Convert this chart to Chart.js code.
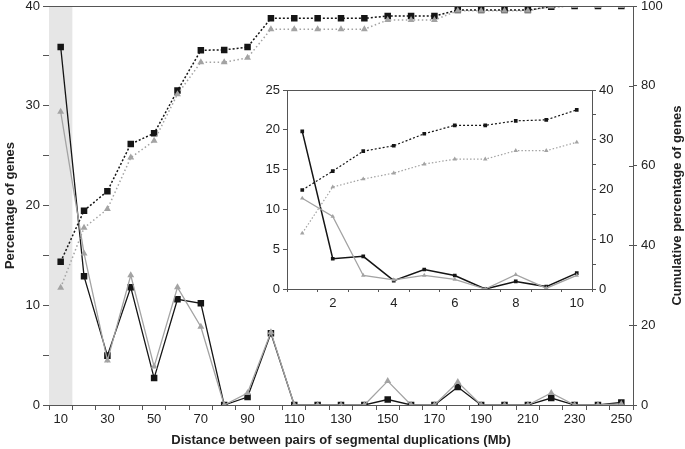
<!DOCTYPE html>
<html>
<head>
<meta charset="utf-8">
<script src="https://cdn.jsdelivr.net/npm/chart.js@4/dist/chart.umd.min.js"></script>
<style>
  body { margin: 0; background: #fff; }
  #wrap { position: relative; width: 685px; height: 449px; }
  #main { position: absolute; left: 0; top: 0; }
  #inset { position: absolute; left: 250px; top: 78px; }
</style>
</head>
<body>
<div id="wrap">
  <canvas id="main" width="685" height="449"></canvas>
  <canvas id="inset" width="370" height="236"></canvas>
</div>
<script>
// main chart: 10 Mb bins
const distances = [10, 20, 30, 40, 50, 60, 70, 80, 90, 100, 110, 120, 130, 140, 150, 160, 170, 180, 190, 200, 210, 220, 230, 240, 250];
const pctBlack = [35.9, 12.9, 4.95, 11.8, 2.7, 10.6, 10.2, 0, 0.8, 7.2, 0, 0, 0, 0, 0.55, 0, 0, 1.8, 0, 0, 0, 0.7, 0, 0, 0.25];
const pctGray = [29.4, 15.2, 4.45, 13.0, 3.85, 11.8, 7.85, 0, 1.2, 7.3, 0, 0, 0, 0, 2.4, 0, 0, 2.3, 0, 0, 0, 1.2, 0, 0, 0.1];
const cumBlack = [35.9, 48.7, 53.6, 65.4, 68.1, 78.8, 88.9, 89.0, 89.7, 96.9, 96.9, 96.9, 96.9, 96.9, 97.5, 97.5, 97.5, 99.0, 99.0, 99.0, 99.0, 99.8, 100, 100, 100];
const cumGray = [29.4, 44.4, 49.1, 62.0, 66.2, 77.9, 85.9, 85.9, 87.0, 94.2, 94.2, 94.2, 94.2, 94.2, 96.5, 96.5, 96.5, 98.8, 98.8, 98.8, 98.8, 99.9, 100, 100, 100];

// inset: first 10 Mb in 1 Mb bins
const insetDistances = [1, 2, 3, 4, 5, 6, 7, 8, 9, 10];
const insetPctBlack = [19.8, 3.8, 4.1, 1.05, 2.45, 1.7, 0, 0.95, 0.3, 2.0];
const insetPctGray = [11.4, 9.1, 1.7, 1.15, 1.7, 1.2, 0, 1.8, 0.1, 1.7];
const insetCumBlack = [19.9, 23.7, 27.7, 28.8, 31.2, 32.9, 32.9, 33.8, 34.0, 36.0];
const insetCumGray = [11.2, 20.5, 22.1, 23.3, 25.1, 26.1, 26.1, 27.8, 27.8, 29.5];

const FONT = '"Liberation Sans", Arial, Helvetica, sans-serif';
const AXIS = '#555';
const BLACK = '#151515';
const GRAY = '#a3a3a3';

Chart.defaults.font.family = FONT;
Chart.defaults.font.size = 13;
Chart.defaults.color = '#222';

function fix(w, h) {
  return function (s) {
    if (w !== null) s.width = w;
    if (h !== null) s.height = h;
    s.paddingTop = 0; s.paddingBottom = 0; s.paddingLeft = 0; s.paddingRight = 0;
  };
}

function lineSet(data, axis, color, style, radius, width, dash) {
  return {
    data: data, yAxisID: axis,
    borderColor: color, backgroundColor: color,
    borderWidth: width, borderDash: dash || [],
    pointStyle: style, pointRadius: radius, pointHoverRadius: radius,
    pointBorderWidth: 0, tension: 0
  };
}

const mainDeco = {
  id: 'mainDeco',
  beforeDatasetsDraw(chart) {
    const { ctx, chartArea: a, scales: { x } } = chart;
    const step = x.getPixelForTick(1) - x.getPixelForTick(0);
    ctx.save();
    ctx.fillStyle = '#e6e6e6';
    ctx.fillRect(a.left, a.top, x.getPixelForTick(0) + step / 2 - a.left, a.bottom - a.top);
    ctx.restore();
  },
  afterDraw(chart) {
    const { ctx, chartArea: a, scales: { yR } } = chart;
    ctx.save();
    ctx.strokeStyle = AXIS;
    ctx.lineWidth = 1;
    ctx.beginPath();
    ctx.moveTo(a.left, a.top + 0.5);
    ctx.lineTo(a.right, a.top + 0.5);
    // right axis ticks cross the axis line
    yR.ticks.forEach((t, i) => {
      const py = Math.round(yR.getPixelForTick(i)) + 0.5;
      ctx.moveTo(a.right - 4, py);
      ctx.lineTo(a.right, py);
    });
    ctx.stroke();
    // right title reads bottom to top
    ctx.translate(677, (a.top + a.bottom) / 2);
    ctx.rotate(-Math.PI / 2);
    ctx.font = 'bold 13px ' + FONT;
    ctx.fillStyle = '#222';
    ctx.textAlign = 'center';
    ctx.textBaseline = 'middle';
    ctx.fillText('Cumulative percentage of genes', 0, 0);
    ctx.restore();
  }
};

new Chart(document.getElementById('main'), {
  type: 'line',
  data: {
    labels: distances,
    datasets: [
      lineSet(cumGray, 'yR', GRAY, 'triangle', 4, 1.5, [1.5, 2.5]),
      lineSet(cumBlack, 'yR', BLACK, 'rect', 4.6, 1.5, [2, 2]),
      lineSet(pctGray, 'y', GRAY, 'triangle', 4, 1.3),
      lineSet(pctBlack, 'y', BLACK, 'rect', 4.6, 1.3)
    ]
  },
  options: {
    responsive: false, animation: false,
    layout: { padding: { top: 6, left: 0, right: 0, bottom: 0 } },
    plugins: { legend: { display: false }, tooltip: { enabled: false } },
    scales: {
      x: {
        type: 'category', offset: true,
        grid: { drawOnChartArea: false, offset: true, tickLength: 5, color: AXIS },
        border: { color: AXIS },
        ticks: { autoSkip: false, maxRotation: 0, padding: 2,
          callback: function (v, i) { return i % 2 === 0 ? this.getLabelForValue(v) : ''; } },
        title: { display: true, text: 'Distance between pairs of segmental duplications (Mb)',
          font: { weight: 'bold', size: 13 }, padding: { top: 0, bottom: 1 } },
        afterFit: fix(null, 44)
      },
      y: {
        position: 'left', min: 0, max: 40,
        grid: { drawOnChartArea: false, tickLength: 6, color: AXIS },
        border: { color: AXIS },
        ticks: { stepSize: 5, padding: 3, autoSkip: false,
          callback: v => (v % 10 === 0 ? v : '') },
        title: { display: true, text: 'Percentage of genes',
          font: { weight: 'bold', size: 13 }, padding: { top: 3, bottom: 0 } },
        afterFit: fix(49, null)
      },
      yR: {
        position: 'right', min: 0, max: 100,
        grid: { drawOnChartArea: false, tickLength: 4, color: AXIS },
        border: { color: AXIS },
        ticks: { stepSize: 20, padding: 4, autoSkip: false },
        afterFit: fix(52, null)
      }
    }
  },
  plugins: [mainDeco]
});

const insetDeco = {
  id: 'insetDeco',
  beforeDraw(chart) {
    const { ctx, chartArea: a } = chart;
    ctx.save();
    ctx.fillStyle = '#fff';
    ctx.fillRect(a.left, a.top, a.right - a.left, a.bottom - a.top);
    ctx.restore();
  },
  afterDraw(chart) {
    const { ctx, chartArea: a } = chart;
    ctx.save();
    ctx.strokeStyle = AXIS;
    ctx.lineWidth = 1;
    ctx.beginPath();
    ctx.moveTo(a.left, a.top + 0.5);
    ctx.lineTo(a.right, a.top + 0.5);
    ctx.stroke();
    ctx.restore();
  }
};

new Chart(document.getElementById('inset'), {
  type: 'line',
  data: {
    labels: insetDistances,
    datasets: [
      lineSet(insetCumGray, 'yR', GRAY, 'triangle', 2.6, 1.2, [1.5, 2]),
      lineSet(insetCumBlack, 'yR', BLACK, 'rect', 2.6, 1.2, [2, 2]),
      lineSet(insetPctGray, 'y', GRAY, 'triangle', 2.6, 1.3),
      lineSet(insetPctBlack, 'y', BLACK, 'rect', 2.6, 1.5)
    ]
  },
  options: {
    responsive: false, animation: false,
    layout: { padding: { top: 12, left: 0, right: 0, bottom: 0 } },
    plugins: { legend: { display: false }, tooltip: { enabled: false } },
    scales: {
      x: {
        type: 'category', offset: true,
        grid: { drawOnChartArea: false, offset: true, tickLength: 3, color: AXIS },
        border: { color: AXIS },
        ticks: { autoSkip: false, maxRotation: 0, padding: 4,
          callback: function (v, i) { return i % 2 === 1 ? this.getLabelForValue(v) : ''; } },
        afterFit: fix(null, 25)
      },
      y: {
        position: 'left', min: 0, max: 25,
        grid: { drawOnChartArea: false, tickLength: 4, color: AXIS },
        border: { color: AXIS },
        ticks: { stepSize: 5, padding: 3, autoSkip: false },
        afterFit: fix(37, null)
      },
      yR: {
        position: 'right', min: 0, max: 40,
        grid: { drawOnChartArea: false, tickLength: 4, color: AXIS },
        border: { color: AXIS },
        ticks: { stepSize: 5, padding: 3, autoSkip: false,
          callback: v => (v % 10 === 0 ? v : '') },
        afterFit: fix(28, null)
      }
    }
  },
  plugins: [insetDeco]
});
</script>
</body>
</html>
